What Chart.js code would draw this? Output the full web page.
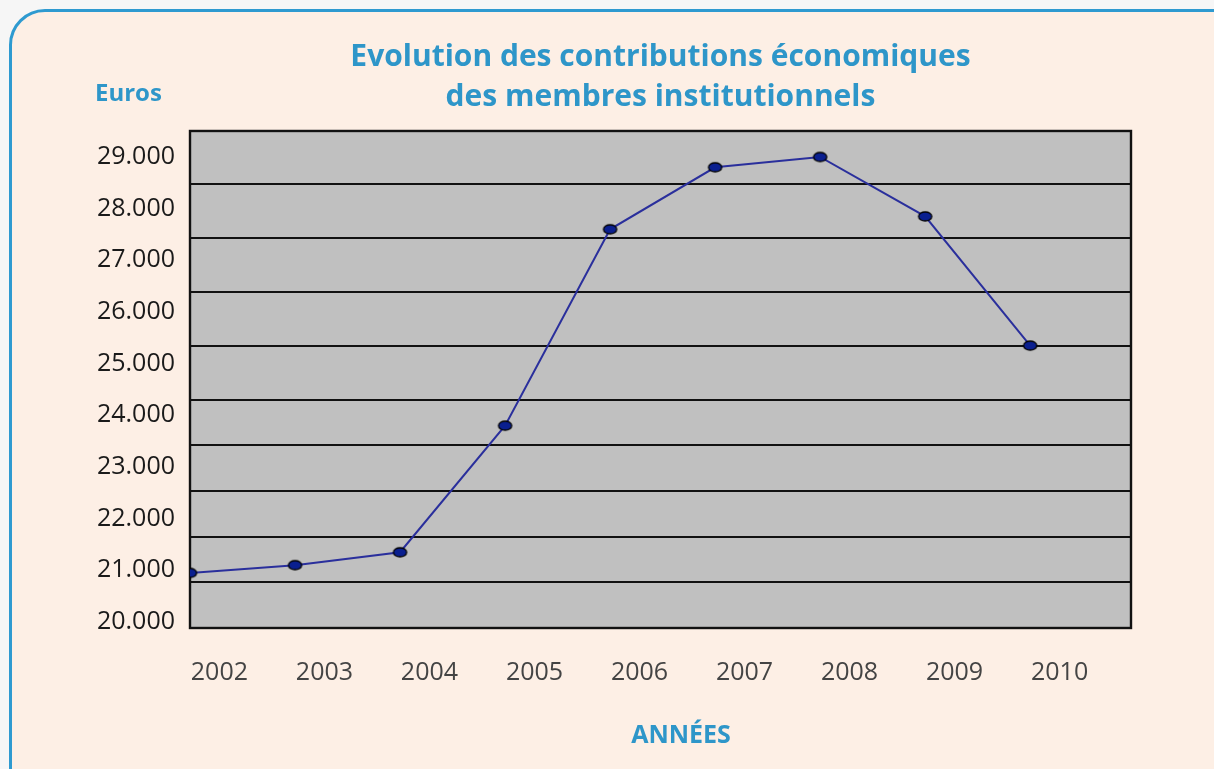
<!DOCTYPE html>
<html lang="fr">
<head>
<meta charset="utf-8">
<title>Evolution des contributions économiques</title>
<script src="https://cdn.jsdelivr.net/npm/chart.js@4"></script>
<style>
  html, body { margin: 0; padding: 0; background: #f6f6f6; overflow: hidden; }
  .panel {
    position: absolute; left: 9px; top: 9px; width: 1240px; height: 800px;
    background: #fdefe5; border: 3px solid #2e9ad0; border-radius: 36px;
  }
  #wrap { position: absolute; left: 0; top: 0; width: 1214px; height: 769px; }
</style>
</head>
<body>
<div class="panel"></div>
<div id="wrap"><canvas id="chart"></canvas></div>
<script>
// données
const years = ['2002', '2003', '2004', '2005', '2006', '2007', '2008', '2009', '2010'];
const contributions = [20950, 21100, 21350, 23800, 27600, 28800, 29000, 27850, 25350];
const yTicks = [20000, 21000, 22000, 23000, 24000, 25000, 26000, 27000, 28000, 29000];

const BLUE = '#2e96c9';
const FONT = '"Open Sans", "Noto Sans", sans-serif';

// lignes horizontales du fond (pas alignées sur les graduations dans l'original)
const gridValues = [20774, 21645, 22535, 23426, 24297, 25342, 26387, 27432, 28477];

// marqueur elliptique
function ellipseMarker() {
    const c = document.createElement('canvas');
    c.width = 17; c.height = 13;
    const g = c.getContext('2d');
    g.beginPath();
    g.ellipse(8.5, 6.5, 6.6, 4.5, 0, 0, Math.PI * 2);
    g.fillStyle = '#0a1f8f';
    g.fill();
    g.lineWidth = 1.3;
    g.strokeStyle = '#000';
    g.stroke();
    return c;
}

const fmt = v => String(v).replace(/\B(?=(\d{3})+(?!\d))/g, '.');

const decor = {
    id: 'decor',
    beforeDraw(chart) {
        const { ctx, chartArea: a } = chart;
        ctx.save();
        ctx.fillStyle = '#c0c0c0';
        ctx.fillRect(a.left, a.top, a.right - a.left, a.bottom - a.top);
        ctx.restore();
    },
    beforeDatasetsDraw(chart) {
        const { ctx, chartArea: a } = chart;
        ctx.save();
        ctx.strokeStyle = '#111';
        ctx.lineWidth = 2.4;
        ctx.strokeRect(a.left, a.top, a.right - a.left, a.bottom - a.top);
        ctx.restore();
    },
    afterDraw(chart) {
        const { ctx } = chart;
        ctx.save();
        ctx.fillStyle = BLUE;
        ctx.textBaseline = 'middle';
        ctx.font = 'bold 24px ' + FONT;
        ctx.textAlign = 'left';
        ctx.fillText('Euros', 95, 94);
        ctx.font = 'bold 25px ' + FONT;
        ctx.textAlign = 'center';
        ctx.fillText('ANNÉES', 681, 736);
        ctx.restore();
    }
};

new Chart(document.getElementById('chart'), {
    type: 'line',
    data: {
        datasets: [{
            label: 'Contributions',
            data: contributions.map((v, i) => ({ x: i, y: v })),
            borderColor: '#2a2f9c',
            borderWidth: 2,
            pointStyle: ellipseMarker(),
            pointRadius: 7,
            tension: 0,
            fill: false,
        }]
    },
    options: {
        responsive: true,
        maintainAspectRatio: false,
        animation: false,
        layout: { padding: { left: 0, right: 83, top: 0, bottom: 0 } },
        plugins: {
            legend: { display: false },
            tooltip: { enabled: false },
            title: {
                display: true,
                fullSize: false,
                text: ['Evolution des contributions économiques', 'des membres institutionnels'],
                color: BLUE,
                font: { family: FONT, size: 30, weight: 'bold', lineHeight: 1.333 },
                padding: { top: 37, bottom: 14 }
            }
        },
        scales: {
            x: {
                type: 'linear',
                min: 0,
                max: 8.96,
                grid: { display: false },
                border: { display: false },
                afterFit: s => { s.height = 141; },
                afterBuildTicks: s => { s.ticks = years.map((y, i) => ({ value: i + 0.28 })); },
                ticks: {
                    padding: 22,
                    color: '#444',
                    font: { family: FONT, size: 25 },
                    maxRotation: 0,
                    autoSkip: false,
                    callback: v => years[Math.round(v - 0.28)]
                }
            },
            y: {
                min: 19884,
                max: 29503,
                grid: { display: false, drawTicks: false },
                border: { display: false },
                afterFit: s => { s.width = 190; },
                afterBuildTicks: s => { s.ticks = yTicks.map(v => ({ value: v })); },
                ticks: {
                    padding: 15,
                    color: '#1a1a1a',
                    font: { family: FONT, size: 25 },
                    callback: v => fmt(v)
                }
            },
            grille: {
                position: 'right',
                min: 19884,
                max: 29503,
                ticks: { display: false },
                border: { display: false },
                grid: { color: '#111', lineWidth: 2, drawTicks: false },
                afterFit: s => { s.width = 0; },
                afterBuildTicks: s => { s.ticks = gridValues.map(v => ({ value: v })); }
            }
        }
    },
    plugins: [decor]
});
</script>
</body>
</html>
